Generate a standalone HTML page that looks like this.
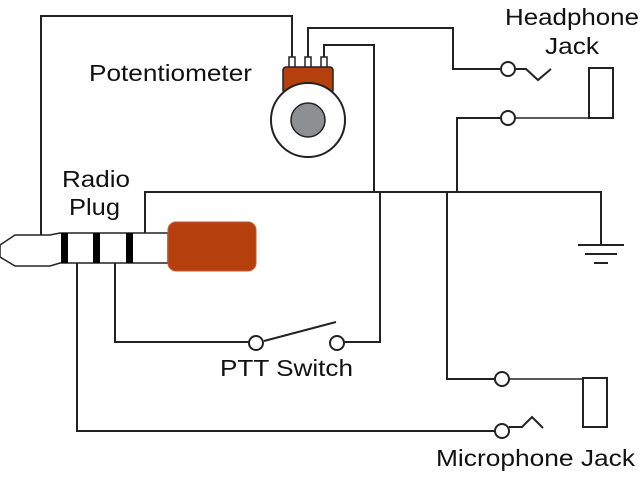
<!DOCTYPE html>
<html><head><style>body{margin:0;background:#fff}svg{display:block}text{font-family:"Liberation Sans",sans-serif;fill:#111}</style></head><body>
<svg width="640" height="480" viewBox="0 0 640 480" xmlns="http://www.w3.org/2000/svg">
<g fill="none" stroke="#222" stroke-width="2">
<polyline points="41,237 41,16 292,16 292,58"/>
<polyline points="308,58 308,28 453,28 453,69 500,69"/>
<polyline points="324,58 324,45 374,45 374,192"/>
<polyline points="145,233 145,192 601,192 601,245"/>
<polyline points="115,263 115,342 249,342"/>
<polyline points="380,192 380,342 344,342"/>
<polyline points="77,263 77,431 495,431"/>
<polyline points="447,192 447,379 495,379"/>
<polyline points="457,192 457,118 501,118"/>
<line x1="578" y1="245" x2="624" y2="245"/>
<line x1="585" y1="254" x2="617" y2="254"/>
<line x1="594" y1="263" x2="608" y2="263"/>
<line x1="264" y1="341" x2="336" y2="322"/>
<polyline points="516,69 526,69 538,80 551,69"/>
<polyline points="509,427 522,427 532,417 543,428"/>
<line x1="515" y1="118" x2="589" y2="118" stroke-width="1.5"/>
<line x1="509" y1="379" x2="583" y2="379" stroke-width="1.5"/>
<rect x="589" y="68" width="24" height="50"/>
<rect x="583" y="378" width="24" height="49"/>
<circle cx="508" cy="69" r="7" fill="#fff"/>
<circle cx="508" cy="118" r="7" fill="#fff"/>
<circle cx="502" cy="379" r="7" fill="#fff"/>
<circle cx="502" cy="431" r="7" fill="#fff"/>
<circle cx="256" cy="343" r="7" fill="#fff"/>
<circle cx="337" cy="343" r="7" fill="#fff"/>
<rect x="289" y="57" width="6" height="11" fill="#fff" stroke-width="1.5"/>
<rect x="305" y="57" width="6" height="11" fill="#fff" stroke-width="1.5"/>
<rect x="321" y="57" width="6" height="11" fill="#fff" stroke-width="1.5"/>
<rect x="283" y="67" width="50" height="26" rx="3" fill="#b5400e" stroke-width="1.5"/>
<circle cx="308" cy="120" r="37" fill="#fff"/>
<circle cx="308" cy="120" r="17" fill="#8c9092" stroke-width="1.5"/>
<polygon points="60,233 168,233 168,263 60,263 50,266 15,266 0,257 0,245 15,235 50,235" fill="#fff" stroke-width="1.5"/>
<rect x="168" y="222" width="88" height="49" rx="8" fill="#b5400e" stroke="#c05a30" stroke-width="1"/>
</g>
<g fill="#000">
<rect x="61" y="233" width="7" height="30"/>
<rect x="93" y="233" width="7" height="30"/>
<rect x="126" y="233" width="7" height="30"/>
</g>
<g font-size="23">
<text x="505" y="25" textLength="134" lengthAdjust="spacingAndGlyphs">Headphone</text>
<text x="545" y="54" textLength="54" lengthAdjust="spacingAndGlyphs">Jack</text>
<text x="89" y="81" textLength="163" lengthAdjust="spacingAndGlyphs">Potentiometer</text>
<text x="62" y="187" textLength="68" lengthAdjust="spacingAndGlyphs">Radio</text>
<text x="69" y="215" textLength="51" lengthAdjust="spacingAndGlyphs">Plug</text>
<text x="220" y="376" textLength="133" lengthAdjust="spacingAndGlyphs">PTT Switch</text>
<text x="436" y="466" textLength="199" lengthAdjust="spacingAndGlyphs">Microphone Jack</text>
</g>
</svg>
</body></html>
